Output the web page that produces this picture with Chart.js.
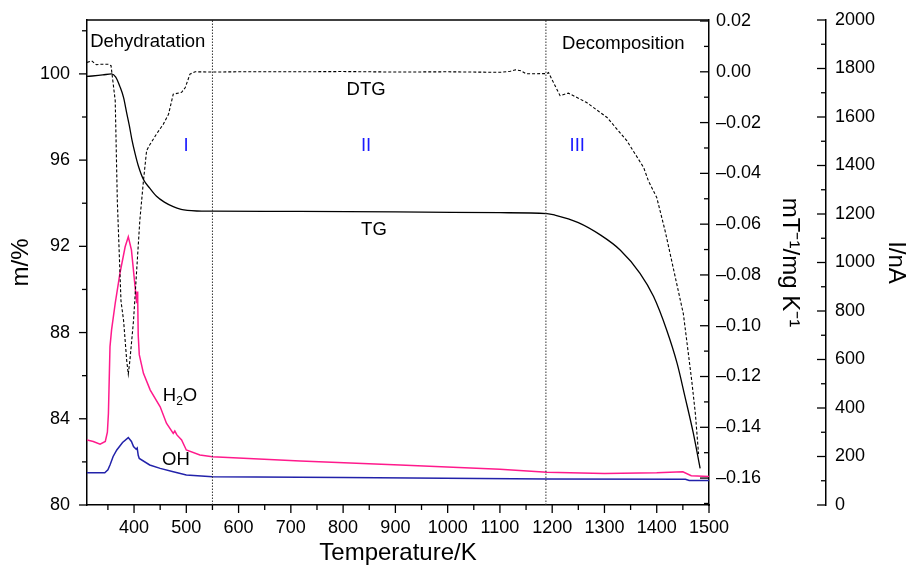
<!DOCTYPE html>
<html>
<head>
<meta charset="utf-8">
<title>TG / DTG / MS</title>
<script src="https://cdn.jsdelivr.net/npm/chart.js@4.4.0/dist/chart.umd.min.js"></script>
<style>
    html, body { margin: 0; padding: 0; background: #fff; }
    canvas { display: block; }
</style>
</head>
<body>
<canvas id="chart" width="912" height="571"></canvas>
<script>
// tick labels
const tempTicks = [400, 500, 600, 700, 800, 900, 1000, 1100, 1200, 1300, 1400, 1500];
const massTicks = [80, 84, 88, 92, 96, 100];
const dtgTicks = [-0.16, -0.14, -0.12, -0.10, -0.08, -0.06, -0.04, -0.02, 0, 0.02];
const currentTicks = [0, 200, 400, 600, 800, 1000, 1200, 1400, 1600, 1800, 2000];

// TG curve (m/%)
const tgTemp = [310, 340, 357, 365, 373, 380, 386, 391, 396, 402, 408, 418, 430, 443, 458, 475, 490, 502, 520, 550,
    700, 900, 1100, 1190, 1205, 1250, 1292, 1330, 1368, 1394, 1419, 1439, 1454, 1470, 1483];
const tgMass = [99.88, 99.95, 100.0, 99.85, 99.41, 98.9, 98.18, 97.6, 96.94, 96.3, 95.75, 95.1, 94.7, 94.32, 94.05, 93.84, 93.72, 93.67, 93.64, 93.63,
    93.62, 93.6, 93.56, 93.52, 93.45, 93.1, 92.53, 91.83, 90.75, 89.67, 88.12, 86.57, 85.03, 83.33, 81.7];

// DTG curve (mT-1/mg K-1)
const dtgTemp = [310, 319, 328, 338, 351, 356, 364, 368, 375, 380, 386, 389, 392, 399, 405, 411, 418, 424, 429, 443, 456, 466, 475, 491, 498, 507, 517,
    550, 600, 700, 800, 900, 1000, 1100, 1120, 1130, 1140, 1150, 1190,
    1193, 1215, 1231, 1266, 1305, 1343, 1375, 1384, 1400, 1416, 1437, 1451, 1459, 1467, 1474, 1480];
const dtgValue = [0.0037, 0.0043, 0.0028, 0.003, 0.003, 0.0024, -0.0114, -0.0508, -0.0902, -0.098, -0.1138, -0.119, -0.1138, -0.098, -0.0783, -0.0587, -0.0429, -0.0311, -0.0291, -0.0245, -0.0206, -0.0167, -0.0088, -0.0081, -0.0062, -0.0009, 0.0,
    -0.0001, 0.0, 0.0, 0.0001, -0.0001, 0.0, -0.0002, 0.0002, 0.0008, 0.0004, -0.0008, -0.0007,
    -0.0003, -0.0094, -0.0084, -0.0121, -0.018, -0.0272, -0.0377, -0.0429, -0.0495, -0.0626, -0.0823, -0.0954, -0.1085, -0.1217, -0.1348, -0.1505];

// ion current H2O (I/nA)
const h2oTemp = [310, 322, 335, 345, 349, 351, 354, 357, 364, 373, 383, 389, 395, 402, 405, 406, 407, 408, 410, 418, 431, 450, 462, 475, 478, 482, 491, 500, 526, 550,
    718, 909, 1100, 1190, 1300, 1400, 1450, 1466, 1500];
const h2oCurrent = [268, 262, 251, 262, 300, 378, 653, 722, 832, 955, 1065, 1106, 1052, 900, 832, 880, 850, 700, 620, 543, 474, 405, 337, 295, 305, 289, 268, 227, 206, 199,
    181, 165, 147, 135, 130, 133, 137, 121, 118];

// ion current OH (I/nA)
const ohTemp = [310, 344, 350, 354, 360, 367, 378, 389, 395, 399, 404, 406, 408, 410, 430, 450, 475, 500, 550, 800, 1190, 1455, 1462, 1500];
const ohCurrent = [133, 133, 145, 165, 200, 227, 258, 278, 262, 241, 230, 235, 205, 192, 165, 151, 137, 124, 117, 113, 107, 106, 101, 101];

// stage boundaries (K)
const stageBounds = [550, 1188];

// text in the plot: [text, T, m/%, align, colour]
const notes = [
    ['Dehydratation', 316, 101.48, 'left', '#000'],
    ['Decomposition', 1219, 101.39, 'left', '#000'],
    ['I', 499.5, 96.66, 'center', '#1a1aff'],
    ['II', 844, 96.66, 'center', '#1a1aff'],
    ['III', 1248, 96.66, 'center', '#1a1aff'],
    ['DTG', 844, 99.26, 'center', '#000'],
    ['TG', 859, 92.76, 'center', '#000'],
    ['OH', 453.5, 82.09, 'left', '#000']
];

const FONT = "'Liberation Sans', Arial, sans-serif";
Chart.defaults.font.family = FONT;
Chart.defaults.color = '#000';

const pts = (xs, ys) => xs.map((x, i) => ({x: x, y: ys[i]}));

const datasets = stageBounds.map(b => ({
    data: [{x: b, y: 80}, {x: b, y: 102.5}],
    yAxisID: 'yM',
    borderColor: '#333',
    borderWidth: 1,
    borderDash: [1.5, 1.5]
}));
datasets.push({data: pts(tgTemp, tgMass), yAxisID: 'yM', borderColor: '#000', borderWidth: 1.3, cubicInterpolationMode: 'monotone'});
datasets.push({data: pts(dtgTemp, dtgValue), yAxisID: 'yD', borderColor: '#000', borderWidth: 1.1, borderDash: [3, 2]});
datasets.push({data: pts(h2oTemp, h2oCurrent), yAxisID: 'yI', borderColor: '#ff1a8c', borderWidth: 1.5});
datasets.push({data: pts(ohTemp, ohCurrent), yAxisID: 'yI', borderColor: '#2222aa', borderWidth: 1.5});

function fixTicks(list) {
    return scale => { scale.ticks = list.map(v => ({value: v})); };
}

// fixed axis sizes, no extra label padding
function fitSize(w, h) {
    return s => {
        if (w) s.width = w;
        if (h) s.height = h;
        s.paddingTop = 0;
        s.paddingBottom = 0;
        s.paddingLeft = 0;
        s.paddingRight = 0;
    };
}

// tick marks (major + minor), frame top and the texts
const tickMarks = {
    id: 'tickMarks',
    afterDraw(chart) {
        const ctx = chart.ctx;
        const area = chart.chartArea;
        const s = chart.scales;
        ctx.save();
        ctx.strokeStyle = '#000';
        ctx.lineWidth = 1.5;
        ctx.beginPath();
        ctx.moveTo(area.left, area.top);
        ctx.lineTo(area.right, area.top);
        ctx.stroke();

        const specs = [
            {scale: s.x, step: 50, majors: tempTicks, at: area.bottom, dir: 1, horiz: true, big: 8, small: 5},
            {scale: s.yM, step: 2, majors: massTicks, at: area.left, dir: -1, big: 8, small: 5},
            {scale: s.yD, step: 0.01, majors: dtgTicks, at: area.right, dir: -1, big: 9, small: 5},
            {scale: s.yI, step: 100, majors: currentTicks, at: s.yI.left, dir: -1, big: 9, small: 5}
        ];
        ctx.lineWidth = 1.3;
        specs.forEach(sp => {
            const k0 = Math.ceil(sp.scale.min / sp.step - 1e-6);
            const k1 = Math.floor(sp.scale.max / sp.step + 1e-6);
            for (let k = k0; k <= k1; k++) {
                const v = k * sp.step;
                const isMajor = sp.majors.some(m => Math.abs(m - v) < sp.step / 10);
                const len = isMajor ? sp.big : sp.small;
                const p = sp.scale.getPixelForValue(v);
                ctx.beginPath();
                if (sp.horiz) {
                    ctx.moveTo(p, sp.at);
                    ctx.lineTo(p, sp.at + sp.dir * len);
                } else {
                    ctx.moveTo(sp.at, p);
                    ctx.lineTo(sp.at + sp.dir * len, p);
                }
                ctx.stroke();
            }
        });
        ctx.restore();
    },
    afterDatasetsDraw(chart) {
        const ctx = chart.ctx;
        const sx = chart.scales.x, sy = chart.scales.yM;
        ctx.save();
        ctx.font = '18.5px ' + FONT;
        ctx.textBaseline = 'middle';
        notes.forEach(n => {
            ctx.fillStyle = n[4];
            ctx.textAlign = n[3];
            ctx.fillText(n[0], sx.getPixelForValue(n[1]), sy.getPixelForValue(n[2]));
        });
        // H2O with subscript
        let x = sx.getPixelForValue(455);
        const y = sy.getPixelForValue(85.06);
        ctx.textAlign = 'left';
        ctx.fillStyle = '#000';
        ctx.fillText('H', x, y);
        x += ctx.measureText('H').width;
        ctx.font = '12px ' + FONT;
        ctx.fillText('2', x, y + 6);
        x += ctx.measureText('2').width;
        ctx.font = '18.5px ' + FONT;
        ctx.fillText('O', x, y);
        ctx.restore();
    }
};

const tickFont = {size: 18};
const titleFont = {size: 24};
const plain = v => String(v);

new Chart(document.getElementById('chart'), {
    type: 'line',
    data: {datasets: datasets},
    plugins: [tickMarks],
    options: {
        responsive: false,
        animation: false,
        layout: {padding: {top: 20, left: 0, right: 0, bottom: 0}},
        elements: {point: {radius: 0}, line: {tension: 0}},
        plugins: {legend: {display: false}, tooltip: {enabled: false}},
        scales: {
            x: {
                type: 'linear',
                position: 'bottom',
                min: 310,
                max: 1500,
                afterBuildTicks: fixTicks(tempTicks),
                afterFit: fitSize(0, 66),
                grid: {display: false, drawTicks: false},
                border: {display: true, color: '#000', width: 1.5},
                ticks: {font: tickFont, padding: 12, maxRotation: 0, color: '#000', callback: plain},
                title: {display: true, text: 'Temperature/K', font: titleFont, padding: {top: 0, bottom: 3}}
            },
            yM: {
                type: 'linear',
                position: 'left',
                min: 80,
                max: 102.5,
                afterBuildTicks: fixTicks(massTicks),
                afterFit: fitSize(87, 0),
                grid: {display: false, drawTicks: false},
                border: {display: true, color: '#000', width: 1.5},
                ticks: {font: tickFont, padding: 17, color: '#000', callback: plain},
                title: {display: true, text: 'm/%', font: titleFont, padding: {top: 7, bottom: 0}}
            },
            yD: {
                type: 'linear',
                position: 'right',
                weight: 0,
                min: -0.1706,
                max: 0.0204,
                afterBuildTicks: fixTicks(dtgTicks),
                afterFit: fitSize(117, 0),
                grid: {display: false, drawTicks: false},
                border: {display: true, color: '#000', width: 1.5},
                ticks: {
                    font: tickFont, padding: 7, color: '#000',
                    callback: v => (v < -1e-9 ? '\u2013' : '') + Math.abs(v).toFixed(2)
                },
                title: {display: true, text: 'mT\u207B\u00B9/mg K\u207B\u00B9', font: titleFont, padding: {top: 22, bottom: 0}}
            },
            yI: {
                type: 'linear',
                position: 'right',
                weight: 1,
                min: 0,
                max: 2000,
                afterBuildTicks: fixTicks(currentTicks),
                afterFit: fitSize(86, 0),
                grid: {display: false, drawTicks: false},
                border: {display: true, color: '#000', width: 1.5},
                ticks: {font: tickFont, padding: 9, color: '#000', callback: plain},
                title: {display: true, text: 'I/nA', font: titleFont, padding: {top: 2, bottom: 0}}
            }
        }
    }
});
</script>
</body>
</html>
